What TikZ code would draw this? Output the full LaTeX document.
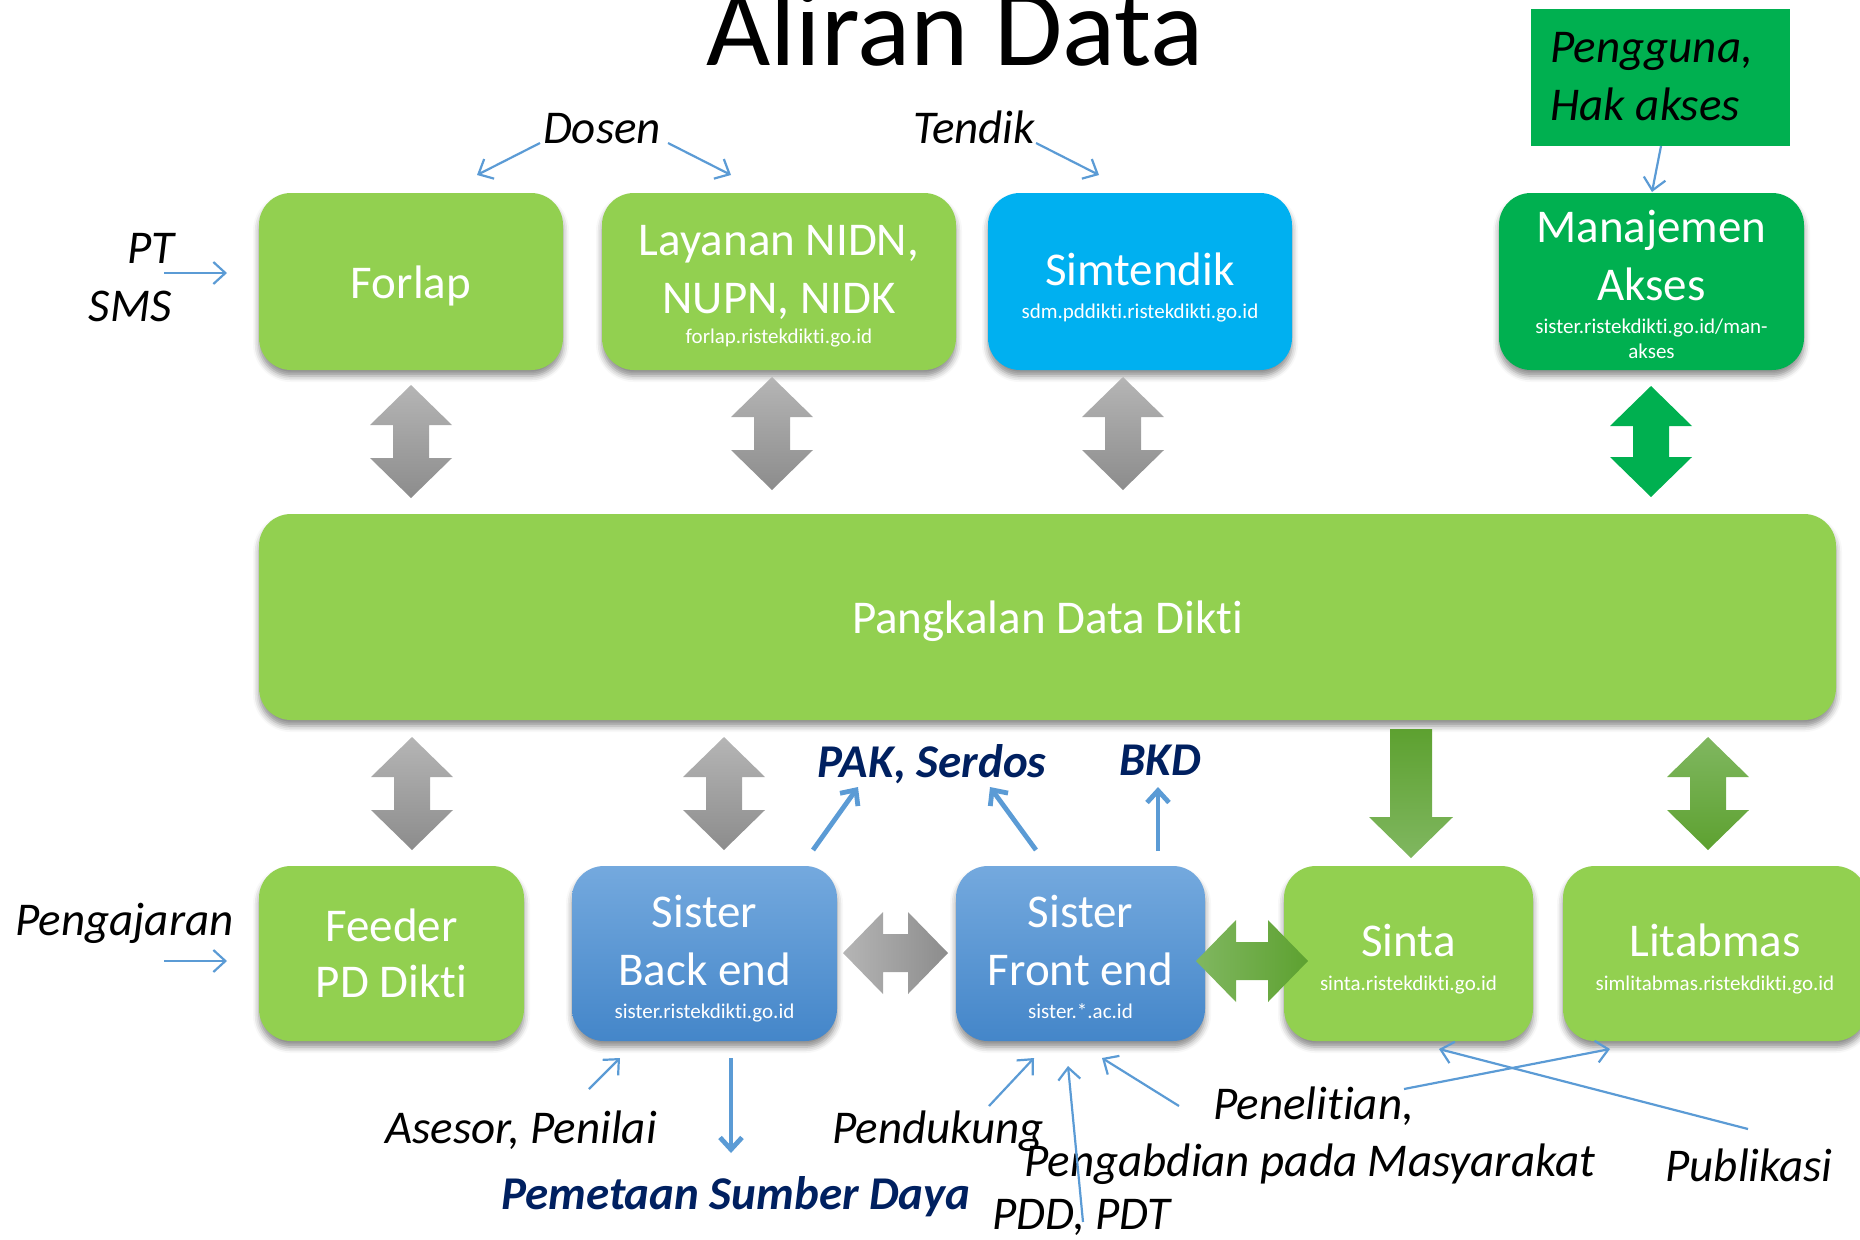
\documentclass[tikz,border=0pt]{standalone}
\usepackage{fontspec}
\setmainfont{Carlito}[Ligatures={NoCommon,NoRequired,NoContextual}]
\usetikzlibrary{arrows.meta,shadows.blur}
\definecolor{lgreen}{HTML}{92D050}
\definecolor{dgreen}{HTML}{00B050}
\definecolor{cyanb}{HTML}{00B0F0}
\definecolor{abblue}{HTML}{5B9BD5}
\definecolor{navy}{HTML}{002060}
\definecolor{sistertop}{HTML}{74A9DE}
\definecolor{sisterbot}{HTML}{4486C9}
\definecolor{graytop}{HTML}{B5B5B5}
\definecolor{graybot}{HTML}{8C8C8C}
\definecolor{gdark}{HTML}{5DA130}
\definecolor{glight}{HTML}{80B760}
% vertical double block arrow: x, top y, length, style
\newcommand\vdarr[4]{\path[#4] (#1,#2) -- ++(41,40) -- ++(-23,0) -- ++(0,#3-80) -- ++(23,0) -- (#1,#2+#3) -- ++(-41,-40) -- ++(23,0) -- ++(0,80-#3) -- ++(-23,0) -- cycle;}
% horizontal double block arrow: left x, centre y, length, style
\newcommand\hdarr[4]{\path[#4] (#1,#2) -- ++(40,-41) -- ++(0,22) -- ++(#3-80,0) -- ++(0,-22) -- (#1+#3,#2) -- ++(-40,41) -- ++(0,-22) -- ++(80-#3,0) -- ++(0,22) -- cycle;}
% single down block arrow: x, top y, length, style
\newcommand\dsarr[4]{\path[#4] (#1-21,#2) -- ++(42,0) -- ++(0,#3-41) -- ++(21,0) -- (#1,#2+#3) -- ++(-42,-41) -- ++(21,0) -- cycle;}
\begin{document}
\begin{tikzpicture}[x=0.5pt,y=-0.5pt,
  box/.style={rounded corners=16pt, minimum height=88.5pt, inner sep=0pt,
    blur shadow={shadow xshift=0pt,shadow yshift=-3pt,shadow blur radius=3pt,shadow opacity=45}},
  boxtext/.style={text=white, font=\fontsize{23.5}{28}\selectfont, anchor=base, inner sep=0pt},
  urltext/.style={text=white, font=\fontsize{10.5}{13}\selectfont, anchor=base, inner sep=0pt},
  lbl/.style={font=\fontsize{23.5}{28}\selectfont\itshape, anchor=base, inner sep=0pt},
  blbl/.style={font=\fontsize{23.5}{28}\selectfont\bfseries\itshape, text=navy, anchor=base, inner sep=0pt},
  thinarr/.style={draw=abblue, line width=1.1pt, -{Straight Barb[length=6pt,width=11pt]}},
  thickarr/.style={draw=abblue, line width=2.4pt, -{Straight Barb[length=6pt,width=11pt]}},
  grayarr/.style={top color=graytop, bottom color=graybot},
]
\useasboundingbox (0,0) rectangle (1860,1239);

% title
\node[font=\fontsize{55.5}{66}\selectfont, anchor=base, inner sep=0pt] (title) at (955,65) {Aliran Data};

% top boxes
\node[box, fill=lgreen, minimum width=152pt] (forlap) at (411,281.5) {};
\node[box, fill=lgreen, minimum width=177pt] (layanan) at (779,281.5) {};
\node[box, fill=cyanb, minimum width=152pt] (simtendik) at (1140,281.5) {};
\node[box, fill=dgreen, minimum width=152.5pt] (manaj) at (1651.5,281.5) {};
\node[fill=dgreen, minimum width=129.5pt, minimum height=68.5pt, inner sep=0pt] (pengguna) at (1660.5,77.5) {};

\node[boxtext] (forlapT) at (411,298) {Forlap};
\node[boxtext] (layananT1) at (779,255) {Layanan NIDN,};
\node[boxtext] (layananT2) at (779,313) {NUPN, NIDK};
\node[urltext] (layananU) at (779,343) {forlap.ristekdikti.go.id};
\node[boxtext] (simtendikT) at (1140,285) {Simtendik};
\node[urltext] (simtendikU) at (1140,318) {sdm.pddikti.ristekdikti.go.id};
\node[boxtext] (manajT1) at (1651.5,242) {Manajemen};
\node[boxtext] (manajT2) at (1651.5,300) {Akses};
\node[urltext] (manajU1) at (1651.5,333) {sister.ristekdikti.go.id/man-};
\node[urltext] (manajU2) at (1651.5,358) {akses};
\node[lbl, anchor=base west] (penggunaT1) at (1550,62) {Pengguna,};
\node[lbl, anchor=base west] (penggunaT2) at (1550,120) {Hak akses};

% central box
\node[box, fill=lgreen, minimum width=788.5pt, minimum height=103pt] (pdd) at (1047.5,617) {};
\node[boxtext] (pddT) at (1047.5,633) {Pangkalan Data Dikti};

% bottom boxes
\node[box, fill=lgreen, minimum width=132.5pt, minimum height=87.5pt] (feeder) at (391.5,953.5) {};
\node[box, top color=sistertop, bottom color=sisterbot, minimum width=132.5pt, minimum height=87.5pt] (back) at (704.5,953.5) {};
\node[box, top color=sistertop, bottom color=sisterbot, minimum width=124.5pt, minimum height=87.5pt] (front) at (1080.5,953.5) {};
\node[box, fill=lgreen, minimum width=124.5pt, minimum height=87.5pt] (sinta) at (1408.5,953.5) {};
\node[box, fill=lgreen, minimum width=152pt, minimum height=87.5pt] (litabmas) at (1715,953.5) {};

\node[boxtext] (feederT1) at (391.5,941) {Feeder};
\node[boxtext] (feederT2) at (391.5,997) {PD Dikti};
\node[boxtext] (backT1) at (704.5,927) {Sister};
\node[boxtext] (backT2) at (704.5,985) {Back end};
\node[urltext] (backU) at (704.5,1018) {sister.ristekdikti.go.id};
\node[boxtext] (frontT1) at (1080.5,927) {Sister};
\node[boxtext] (frontT2) at (1080.5,985) {Front end};
\node[urltext] (frontU) at (1080.5,1018) {sister.*.ac.id};
\node[boxtext] (sintaT) at (1408.5,956) {Sinta};
\node[urltext] (sintaU) at (1408.5,990) {sinta.ristekdikti.go.id};
\node[boxtext] (litabmasT) at (1715,956) {Litabmas};
\node[urltext] (litabmasU) at (1715,990) {simlitabmas.ristekdikti.go.id};

% block arrows
\vdarr{411}{385}{113}{grayarr}
\vdarr{772}{377}{113}{grayarr}
\vdarr{1123}{377}{113}{grayarr}
\vdarr{1651}{386}{111}{fill=dgreen}
\vdarr{412}{737}{113}{grayarr}
\vdarr{724}{737}{113}{grayarr}
\dsarr{1411}{729}{129}{top color=gdark, bottom color=glight}
\vdarr{1708}{737}{113}{top color=glight, bottom color=gdark}
\hdarr{843}{953}{105}{left color=graytop, right color=graybot}
\hdarr{1196}{961}{112}{left color=glight, right color=gdark}

% labels
\node[lbl] (dosen) at (602,143) {Dosen};
\node[lbl] (tendik) at (974,143) {Tendik};
\node[lbl, anchor=base east] (pt) at (175,263) {PT};
\node[lbl, anchor=base east] (sms) at (172,321) {SMS};
\node[lbl, anchor=base west] (pengajaran) at (15,935) {Pengajaran};
\node[blbl] (pak) at (932,777) {PAK, Serdos};
\node[blbl] (bkd) at (1160,775) {BKD};
\node[lbl] (asesor) at (521,1143) {Asesor, Penilai};
\node[blbl] (pemetaan) at (736,1209) {Pemetaan Sumber Daya};
\node[lbl] (pendukung) at (938,1143) {Pendukung};
\node[lbl, anchor=base west] (penelitian) at (1213,1119) {Penelitian,};
\node[lbl, anchor=base west] (pengabdian) at (1024,1176) {Pengabdian pada Masyarakat};
\node[lbl, anchor=base west] (pddpdt) at (992,1229) {PDD, PDT};
\node[lbl, anchor=base west] (publikasi) at (1665,1181) {Publikasi};

% connector ends
\coordinate (ptS) at (164,273);   \coordinate (ptE) at (227,273);
\coordinate (pjS) at (164,961);   \coordinate (pjE) at (227,961);
\coordinate (dsLS) at (540,143);  \coordinate (dsLE) at (477,175);
\coordinate (dsRS) at (668,143);  \coordinate (dsRE) at (731,175);
\coordinate (tdS) at (1036,143);  \coordinate (tdE) at (1099,175);
\coordinate (pgS) at (1661,146);  \coordinate (pgE) at (1652,192);
\coordinate (pakS) at (813,850);  \coordinate (pakE) at (858,787);
\coordinate (serS) at (1036,850); \coordinate (serE) at (990,787);
\coordinate (bkdS) at (1158,851); \coordinate (bkdE) at (1158,787);
\coordinate (asS) at (589,1089);  \coordinate (asE) at (620,1058);
\coordinate (pmS) at (731,1058);  \coordinate (pmE) at (731,1153);
\coordinate (pdS) at (989,1106);  \coordinate (pdE) at (1034,1058);
\coordinate (ppS) at (1083,1222); \coordinate (ppE) at (1068,1066);
\coordinate (pnS) at (1179,1106); \coordinate (pnE) at (1102,1058);
\coordinate (plS) at (1404,1089); \coordinate (plE) at (1610,1049);
\coordinate (pbS) at (1748,1129); \coordinate (pbE) at (1439,1049);

\draw[thinarr] (ptS) -- (ptE);
\draw[thinarr] (pjS) -- (pjE);
\draw[thinarr] (dsLS) -- (dsLE);
\draw[thinarr] (dsRS) -- (dsRE);
\draw[thinarr] (tdS) -- (tdE);
\draw[thinarr] (pgS) -- (pgE);
\draw[thickarr] (pakS) -- (pakE);
\draw[thickarr] (serS) -- (serE);
\draw[thickarr] (bkdS) -- (bkdE);
\draw[thinarr] (asS) -- (asE);
\draw[thickarr] (pmS) -- (pmE);
\draw[thinarr] (pdS) -- (pdE);
\draw[thinarr] (ppS) -- (ppE);
\draw[thinarr] (pnS) -- (pnE);
\draw[thinarr] (plS) -- (plE);
\draw[thinarr] (pbS) -- (pbE);
\end{tikzpicture}
\end{document}
